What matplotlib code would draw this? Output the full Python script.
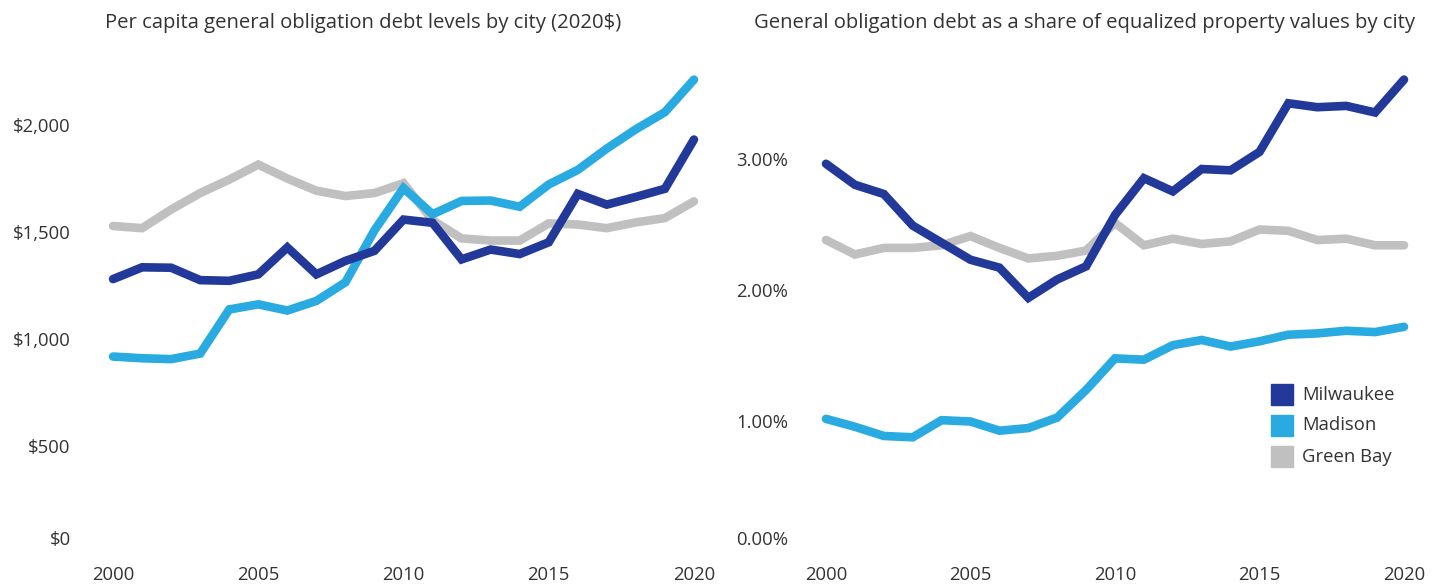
import matplotlib
matplotlib.use("Agg")
import matplotlib.pyplot as plt
import matplotlib.transforms as mtransforms
from matplotlib.patches import Rectangle

years = list(range(2000, 2021))

# Per capita GO debt (2020$)
milwaukee_pc = [1280, 1335, 1333, 1275, 1272, 1302, 1428, 1302, 1365, 1412, 1558, 1543,
                1372, 1418, 1397, 1452, 1678, 1628, 1664, 1702, 1932]
madison_pc = [918, 910, 906, 932, 1138, 1162, 1133, 1178, 1265, 1508, 1705, 1583,
              1645, 1647, 1618, 1722, 1790, 1890, 1980, 2060, 2212]
greenbay_pc = [1528, 1518, 1605, 1682, 1745, 1815, 1750, 1693, 1668, 1682, 1728, 1555,
               1470, 1460, 1460, 1540, 1535, 1518, 1545, 1565, 1643]

# GO debt as share of equalized property values (%)
milwaukee_sh = [2.96, 2.80, 2.73, 2.49, 2.36, 2.23, 2.17, 1.94, 2.08, 2.18, 2.57, 2.85,
                2.75, 2.92, 2.91, 3.05, 3.42, 3.39, 3.40, 3.35, 3.60]
madison_sh = [1.02, 0.96, 0.89, 0.88, 1.01, 1.00, 0.93, 0.95, 1.03, 1.24, 1.48, 1.47,
              1.58, 1.62, 1.57, 1.61, 1.66, 1.67, 1.69, 1.68, 1.72]
greenbay_sh = [2.38, 2.27, 2.32, 2.32, 2.34, 2.41, 2.32, 2.24, 2.26, 2.30, 2.51, 2.34,
               2.39, 2.35, 2.37, 2.46, 2.45, 2.38, 2.39, 2.34, 2.34]

cities = ["Milwaukee", "Madison", "Green Bay"]
colors = ["#22399a", "#29abe2", "#c0c0c0"]

left_ticks = [0, 500, 1000, 1500, 2000]
left_labels = ["$0", "$500", "$1,000", "$1,500", "$2,000"]
right_ticks = [0, 1, 2, 3]
right_labels = ["0.00%", "1.00%", "2.00%", "3.00%"]
x_ticks = [2000, 2005, 2010, 2015, 2020]

titles = ["Per capita general obligation debt levels by city (2020$)",
          "General obligation debt as a share of equalized property values by city"]

plt.rcParams['font.family'] = ['Open Sans', 'DejaVu Sans']
text_color = "#333333"
fs = 13.3
fs_title = 14.6

W, H = 1450, 586
fig = plt.figure(figsize=(W / 100, H / 100), dpi=100)

def fx(px):
    return px / W

def fy(px):
    return 1 - px / H

ax1 = fig.add_axes([fx(100), fy(553), fx(607), fy(60) - fy(553)])
ax2 = fig.add_axes([fx(813), fy(553), fx(604), fy(60) - fy(553)])

lw = 6.2
for ax, series in ((ax1, [milwaukee_pc, madison_pc, greenbay_pc]),
                   (ax2, [milwaukee_sh, madison_sh, greenbay_sh])):
    for idx in [2, 1, 0]:
        ax.plot(years, series[idx], color=colors[idx], lw=lw,
                solid_joinstyle="miter", solid_capstyle="round")
    ax.set_xlim(1999.55, 2020.45)
    ax.set_xticks(x_ticks)
    ax.set_xticklabels([str(t) for t in x_ticks])
    for s in ax.spines.values():
        s.set_visible(False)
    ax.tick_params(axis="both", length=0, labelsize=fs, colors=text_color)
    ax.tick_params(axis="x", pad=9)

ax1.set_ylim(0, (553 - 60) * 500 / 107)
ax1.set_yticks(left_ticks)
ax1.set_yticklabels(left_labels)
ax1.tick_params(axis="y", pad=21)

ax2.set_ylim(0, (553 - 60) / 131.5)
ax2.set_yticks(right_ticks)
ax2.set_yticklabels(right_labels)
ax2.tick_params(axis="y", pad=18)

# Shift the zero labels upward (as in reference)
for ax in (ax1, ax2):
    lbl = ax.get_yticklabels()[0]
    lbl.set_transform(lbl.get_transform() + mtransforms.ScaledTranslation(0, 15 / 100, fig.dpi_scale_trans))

fig.text(fx(363), fy(23), titles[0], ha="center", va="center", fontsize=fs_title, color=text_color)
fig.text(fx(1085), fy(23), titles[1], ha="center", va="center", fontsize=fs_title, color=text_color)

# Legend
leg_y = [394.5, 425.5, 456.5]
for name, c, yy in zip(cities, colors, leg_y):
    fig.patches.append(Rectangle((fx(1271), fy(yy + 10.5)), fx(22), fy(yy - 10.5) - fy(yy + 10.5),
                                 transform=fig.transFigure, color=c, zorder=5))
    fig.text(fx(1302), fy(yy), name, ha="left", va="center", fontsize=fs, color=text_color)

fig.savefig("out.png", dpi=100, facecolor="white")
